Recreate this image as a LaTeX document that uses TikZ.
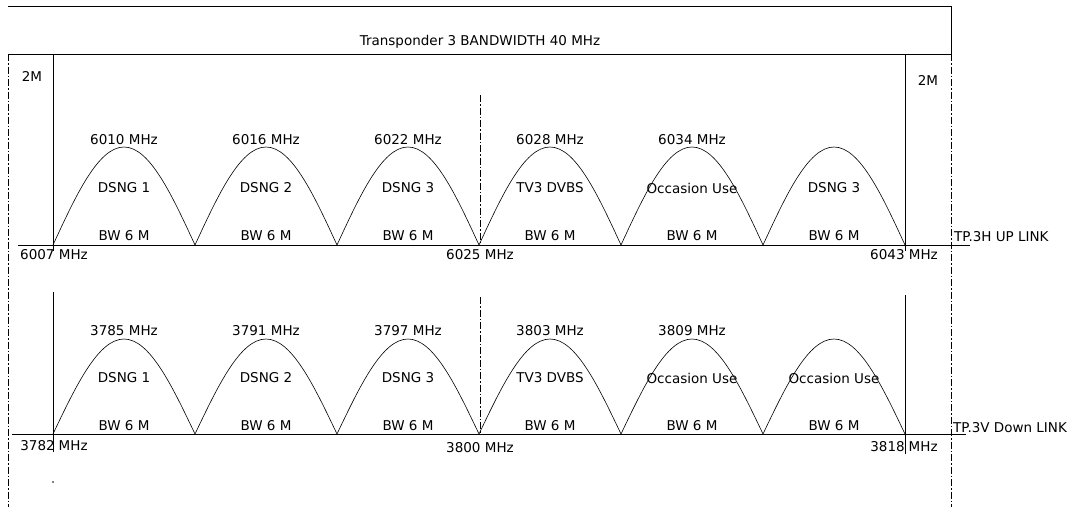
\documentclass[tikz,border=0pt]{standalone}
\usepackage{fontspec}
\setmainfont{DejaVu Sans}
\begin{document}
\begin{tikzpicture}[x=1pt,y=-1pt,
  lbl/.style={inner sep=0pt,font=\fontsize{13.5}{15}\selectfont},
  frame/.style={line width=0.8pt},
  dashdot/.style={line width=0.8pt,dash pattern=on 7pt off 2pt on 1.5pt off 2pt},
  arch/.style={line width=0.6pt}]
\useasboundingbox (0,0) rectangle (1078,507);
% top box
\coordinate (tl) at (8,6);
\coordinate (tr) at (951,6);
\coordinate (br) at (951,54);
\coordinate (bl) at (8,54);
\draw[frame] (tl) -- (tr) -- (br) -- (bl);
\node[lbl] (title) at (480,42) {Transponder 3 BANDWIDTH 40 MHz};
\coordinate (dl) at (8,507);
\coordinate (dr) at (951,507);
\draw[dashdot] (bl) -- (dl);
\draw[dashdot] (br) -- (dr);
\node[lbl] (m2l) at (32,76) {2M};
\node[lbl] (m2r) at (928,80) {2M};
% upper band
\coordinate (uLt) at (53,54);
\coordinate (uLb) at (53,251);
\coordinate (uRt) at (905,54);
\coordinate (uRb) at (905,251);
\draw[frame] (uLt) -- (uLb);
\draw[frame] (uRt) -- (uRb);
\coordinate (ub0) at (18,245);
\coordinate (ub1) at (970,245);
\draw[frame] (ub0) -- (ub1);
\coordinate (uc0) at (480,95);
\coordinate (uc1) at (480,245);
\draw[dashdot] (uc0) -- (uc1);
\foreach \i in {0,...,5}{
  \pgfmathsetmacro{\xa}{53+142*\i}
  \pgfmathsetmacro{\xm}{\xa+71}
  \pgfmathsetmacro{\xb}{\xa+142}
  \draw[arch] (\xa,245) sin (\xm,147) cos (\xb,245);
  \draw[arch] (\xa,434) sin (\xm,339) cos (\xb,434);
  \node[lbl] (ubw\i) at (\xm,236) {BW 6 M};
  \node[lbl] (lbw\i) at (\xm,426) {BW 6 M};
}
\foreach \t [count=\k from 0] in {6010,6016,6022,6028,6034}{
  \node[lbl] (uf\k) at (124+142*\k,140) {\t{} MHz};
}
\foreach \t [count=\k from 0] in {DSNG 1,DSNG 2,DSNG 3,TV3 DVBS,Occasion Use,DSNG 3}{
  \node[lbl] (um\k) at (124+142*\k,188) {\t};
}
\node[lbl] (u6007) at (54,255) {6007 MHz};
\node[lbl] (u6025) at (480,255) {6025 MHz};
\node[lbl] (u6043) at (904,255) {6043 MHz};
\node[lbl,anchor=west] (uplink) at (954,237) {TP.3H UP LINK};
% lower band
\coordinate (lLt) at (53,292);
\coordinate (lLb) at (53,452);
\coordinate (lRt) at (905,295);
\coordinate (lRb) at (905,454);
\draw[frame] (lLt) -- (lLb);
\draw[frame] (lRt) -- (lRb);
\coordinate (lb0) at (12,434);
\coordinate (lb1) at (966,434);
\draw[frame] (lb0) -- (lb1);
\coordinate (lc0) at (480,297);
\coordinate (lc1) at (480,434);
\draw[dashdot] (lc0) -- (lc1);
\foreach \t [count=\k from 0] in {3785,3791,3797,3803,3809}{
  \node[lbl] (lf\k) at (124+142*\k,331) {\t{} MHz};
}
\foreach \t [count=\k from 0] in {DSNG 1,DSNG 2,DSNG 3,TV3 DVBS,Occasion Use,Occasion Use}{
  \node[lbl] (lm\k) at (124+142*\k,378) {\t};
}
\node[lbl] (l3782) at (54,446) {3782\hspace{4pt}MHz};
\node[lbl] (l3800) at (480,448) {3800 MHz};
\node[lbl] (l3818) at (904,447) {3818\hspace{4pt}MHz};
\node[lbl,anchor=west] (downlink) at (953,428) {TP.3V Down LINK};
\fill (53,482) circle (0.9);
\end{tikzpicture}
\end{document}
